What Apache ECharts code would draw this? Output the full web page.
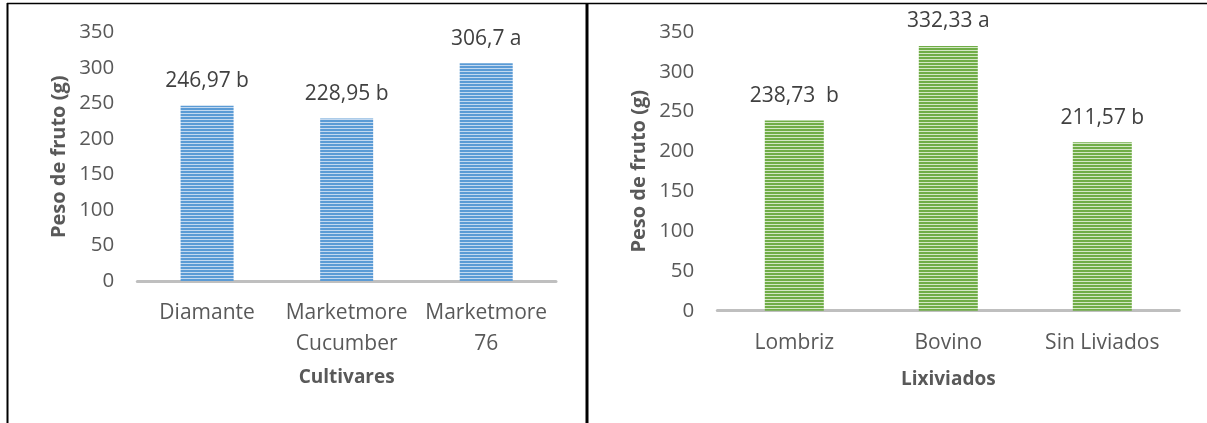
<!DOCTYPE html>
<html>
<head>
<meta charset="utf-8">
<script src="https://cdn.jsdelivr.net/npm/echarts@6/dist/echarts.min.js"></script>
<style>
html,body{margin:0;padding:0;background:#fff;}
#c{width:1207px;height:423px;}
</style>
</head>
<body>
<div id="c"></div>
<script>
// ---- data ----
const cultivares = ['Diamante', 'Marketmore\nCucumber', 'Marketmore\n76'];
const pesoCultivares = [246.97, 228.95, 306.7];
const etiquetasCultivares = ['246,97 b', '228,95 b', '306,7 a'];

const lixiviados = ['Lombriz', 'Bovino', 'Sin Liviados'];
const pesoLixiviados = [238.73, 332.33, 211.57];
const etiquetasLixiviados = ['238,73  b', '332,33 a', '211,57 b'];

const yTicks = [0, 50, 100, 150, 200, 250, 300, 350];

// ---- styling helpers ----
function stripes(dark, light) {
  const cv = document.createElement('canvas');
  cv.width = 4; cv.height = 3;
  const ctx = cv.getContext('2d');
  ctx.fillStyle = dark; ctx.fillRect(0, 0, 4, 2);
  ctx.fillStyle = light; ctx.fillRect(0, 2, 4, 1);
  return { image: cv, repeat: 'repeat' };
}
const FONT = '"Open Sans", "DejaVu Sans", sans-serif';
const blue = stripes('#5B9BD5', '#c3d9f0');
const green = stripes('#70AD47', '#d3e7c4');

function xAxis(idx, cats, gap) {
  return {
    type: 'category', gridIndex: idx, data: cats,
    axisLine: { lineStyle: { color: '#BFBFBF', width: 3 } },
    axisTick: { show: false },
    axisLabel: { color: '#595959', fontSize: 21, fontFamily: FONT, margin: 17, lineHeight: 31, interval: 0 },
    name: idx === 0 ? 'Cultivares' : 'Lixiviados',
    nameLocation: 'middle', nameGap: gap,
    nameTextStyle: { color: '#595959', fontSize: 19, fontWeight: 'bold', fontFamily: FONT }
  };
}
function yAxis(idx) {
  return {
    type: 'value', gridIndex: idx, min: yTicks[0], max: yTicks[yTicks.length - 1], interval: 50,
    axisLine: { show: false }, axisTick: { show: false }, splitLine: { show: false },
    axisLabel: { color: '#595959', fontSize: 20.5, fontFamily: FONT, margin: 23 },
    name: 'Peso de fruto (g)', nameLocation: 'middle', nameGap: 68,
    nameTextStyle: { color: '#595959', fontSize: 20, fontWeight: 'bold', fontFamily: FONT }
  };
}
function barSeries(idx, values, labels, color, width) {
  return {
    type: 'bar', xAxisIndex: idx, yAxisIndex: idx, data: values, barWidth: width,
    itemStyle: { color: color },
    label: {
      show: true, position: 'top', distance: 14, color: '#404040', fontSize: 21, fontFamily: FONT,
      formatter: p => labels[p.dataIndex]
    }
  };
}

const chart = echarts.init(document.getElementById('c'), null, { renderer: 'canvas' });
chart.setOption({
  animation: false,
  backgroundColor: '#fff',
  grid: [
    { left: 137.3, right: 651, top: 32.6, bottom: 142 },
    { left: 717.3, right: 27.7, top: 31.9, bottom: 112.3 }
  ],
  xAxis: [xAxis(0, cultivares, 87), xAxis(1, lixiviados, 59)],
  yAxis: [yAxis(0), yAxis(1)],
  series: [
    barSeries(0, pesoCultivares, etiquetasCultivares, blue, 53),
    barSeries(1, pesoLixiviados, etiquetasLixiviados, green, 59)
  ],
  graphic: [
    { type: 'line', shape: { x1: 7, y1: 3.5, x2: 1207, y2: 3.5 }, style: { stroke: '#000', lineWidth: 1.5 } },
    { type: 'line', shape: { x1: 7.5, y1: 3, x2: 7.5, y2: 423 }, style: { stroke: '#000', lineWidth: 2 } },
    { type: 'line', shape: { x1: 587, y1: 3, x2: 587, y2: 423 }, style: { stroke: '#000', lineWidth: 3 } }
  ]
});
</script>
</body>
</html>
